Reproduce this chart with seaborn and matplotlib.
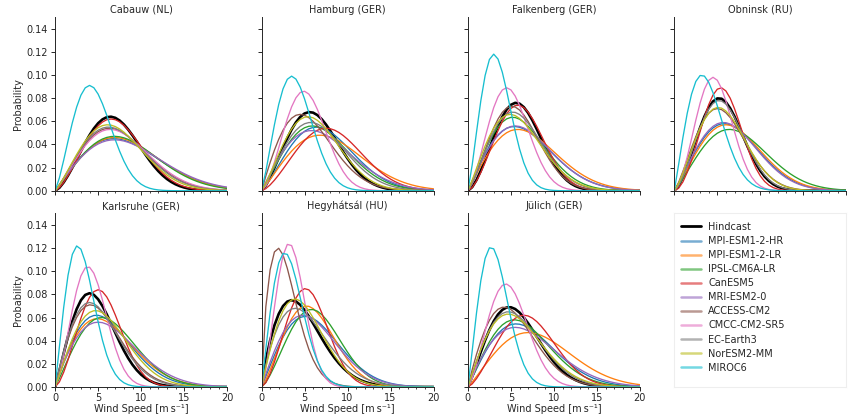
import numpy as np
import pandas as pd
import matplotlib
matplotlib.use("Agg")
import matplotlib.pyplot as plt
from matplotlib.lines import Line2D
from matplotlib.ticker import MultipleLocator
import seaborn as sns

# ---------------- data ----------------
sites = ["Cabauw (NL)", "Hamburg (GER)", "Falkenberg (GER)", "Obninsk (RU)",
         "Karlsruhe (GER)", "Hegyhátsál (HU)", "Jülich (GER)"]
models = ["Hindcast", "MPI-ESM1-2-HR", "MPI-ESM1-2-LR", "IPSL-CM6A-LR", "CanESM5",
          "MRI-ESM2-0", "ACCESS-CM2", "CMCC-CM2-SR5", "EC-Earth3", "NorESM2-MM", "MIROC6"]
colors = ["black", "#1f77b4", "#ff7f0e", "#2ca02c", "#d62728", "#9467bd",
          "#8c564b", "#e377c2", "#7f7f7f", "#bcbd22", "#17becf"]

# wind speed of the peak [m/s] and peak probability per model (order as in `models`)
peak_speed_cabauw = [6.4, 6.8, 6.9, 6.9, 6.5, 6.9, 6.3, 6.4, 6.2, 6.1, 4.0]
peak_prob_cabauw = [0.064, 0.045, 0.046, 0.047, 0.062, 0.044, 0.054, 0.053, 0.055, 0.057, 0.091]
peak_speed_hamburg = [5.6, 6.4, 6.8, 5.9, 7.5, 5.8, 4.5, 4.9, 5.7, 5.4, 3.5]
peak_prob_hamburg = [0.068, 0.055, 0.048, 0.056, 0.054, 0.052, 0.066, 0.086, 0.059, 0.064, 0.099]
peak_speed_falkenberg = [5.6, 5.4, 5.8, 5.2, 5.8, 5.5, 5.1, 4.5, 5.2, 4.9, 3.0]
peak_prob_falkenberg = [0.076, 0.0555, 0.053, 0.0635, 0.074, 0.056, 0.073, 0.089, 0.068, 0.066, 0.118]
peak_speed_obninsk = [5.2, 5.8, 6.0, 6.4, 5.4, 5.7, 5.0, 4.5, 5.2, 5.1, 3.2]
peak_prob_obninsk = [0.080, 0.058, 0.057, 0.053, 0.089, 0.059, 0.071, 0.098, 0.078, 0.072, 0.100]
peak_speed_karlsruhe = [4.0, 4.8, 4.9, 5.4, 5.0, 5.0, 4.1, 3.8, 4.0, 4.7, 2.6]
peak_prob_karlsruhe = [0.081, 0.062, 0.059, 0.060, 0.084, 0.056, 0.071, 0.104, 0.073, 0.066, 0.122]
peak_speed_hegyhatsal = [3.5, 5.1, 5.2, 5.8, 5.1, 4.8, 1.9, 3.2, 3.9, 3.9, 2.7]
peak_prob_hegyhatsal = [0.075, 0.061, 0.070, 0.067, 0.085, 0.062, 0.120, 0.124, 0.068, 0.076, 0.116]
peak_speed_julich = [4.8, 5.6, 7.0, 5.4, 6.5, 5.5, 4.2, 4.4, 4.7, 4.7, 2.7]
peak_prob_julich = [0.069, 0.0545, 0.047, 0.058, 0.062, 0.0515, 0.069, 0.089, 0.065, 0.063, 0.121]

peak_speeds = [peak_speed_cabauw, peak_speed_hamburg, peak_speed_falkenberg, peak_speed_obninsk,
               peak_speed_karlsruhe, peak_speed_hegyhatsal, peak_speed_julich]
peak_probs = [peak_prob_cabauw, peak_prob_hamburg, peak_prob_falkenberg, peak_prob_obninsk,
              peak_prob_karlsruhe, peak_prob_hegyhatsal, peak_prob_julich]

bin_width = 0.5
speed = np.arange(0, 20.001, bin_width)

# Weibull fit from peak position/height: H*m = (k-1) exp(-(k-1)/k)
k_grid = np.linspace(1.02, 10, 4000)
g_grid = (k_grid - 1) * np.exp(-(k_grid - 1) / k_grid)


def weibull_curve(m, h):
    H = h / bin_width
    k = np.interp(H * m, g_grid, k_grid)
    c = m / ((k - 1) / k) ** (1 / k)
    pdf = (k / c) * (speed / c) ** (k - 1) * np.exp(-(speed / c) ** k)
    return pdf * bin_width


rows = []
for s, ms, ps in zip(sites, peak_speeds, peak_probs):
    for mod, m, h in zip(models, ms, ps):
        for x, y in zip(speed, weibull_curve(m, h)):
            rows.append((s, mod, x, y))
df = pd.DataFrame(rows, columns=["site", "model", "speed", "prob"])

# ---------------- plotting ----------------
sns.set_theme(style="ticks")
plt.rcParams["font.family"] = ["DejaVu Sans"]
plt.rcParams.update({
    "font.size": 7, "axes.titlesize": 7, "axes.labelsize": 7,
    "xtick.labelsize": 7, "ytick.labelsize": 7, "legend.fontsize": 7,
    "xtick.major.size": 3, "ytick.major.size": 3, "xtick.minor.size": 1.5,
    "xtick.major.width": 0.7, "ytick.major.width": 0.7, "xtick.minor.width": 0.6,
    "axes.linewidth": 0.7, "xtick.major.pad": 1.5, "ytick.major.pad": 2,
})

fig, axes = plt.subplots(2, 4, figsize=(8.48, 4.17), dpi=100)
fig.subplots_adjust(left=0.065, right=0.998, top=0.959, bottom=0.072, wspace=0.2, hspace=0.13)
axes = axes.ravel()

for i, s in enumerate(sites):
    ax = axes[i]
    sub = df[df["site"] == s]
    for mod, col in zip(models, colors):
        d = sub[sub["model"] == mod]
        sns.lineplot(data=d, x="speed", y="prob", ax=ax, color=col,
                     linewidth=1.9 if mod == "Hindcast" else 0.95, legend=False)
    ax.set_xlim(0, 20)
    ax.set_ylim(0, 0.15)
    ax.set_yticks(np.arange(0, 0.141, 0.02))
    ax.set_xticks([0, 5, 10, 15, 20])
    ax.xaxis.set_minor_locator(MultipleLocator(1))
    ax.set_title(s, pad=3)
    sns.despine(ax=ax)
    if i % 4 == 0:
        ax.set_ylabel("Probability", labelpad=3)
        ax.set_yticklabels([f"{v:.2f}" for v in np.arange(0, 0.141, 0.02)])
    else:
        ax.set_ylabel("")
        ax.set_yticklabels([])
    if i < 4:
        ax.set_xlabel("")
        ax.set_xticklabels([])
    else:
        ax.set_xlabel("Wind Speed [m\u2009s\u207b\u00b9]", labelpad=0.5)

# legend panel
lax = axes[7]
lax.set_xticks([])
lax.set_yticks([])
for sp in lax.spines.values():
    sp.set_color("#eeeeee")
    sp.set_linewidth(0.8)
handles = []
for mod, col in zip(models, colors):
    if mod == "Hindcast":
        handles.append(Line2D([], [], color=col, linewidth=2))
    else:
        handles.append(Line2D([], [], color=col, linewidth=1.8, alpha=0.6))
lax.legend(handles, models, loc="upper left", bbox_to_anchor=(0.0, 0.99), frameon=False,
           handlelength=2.0, handletextpad=0.8, labelspacing=0.42, borderaxespad=0.3)

fig.savefig("out.png", dpi=100)
